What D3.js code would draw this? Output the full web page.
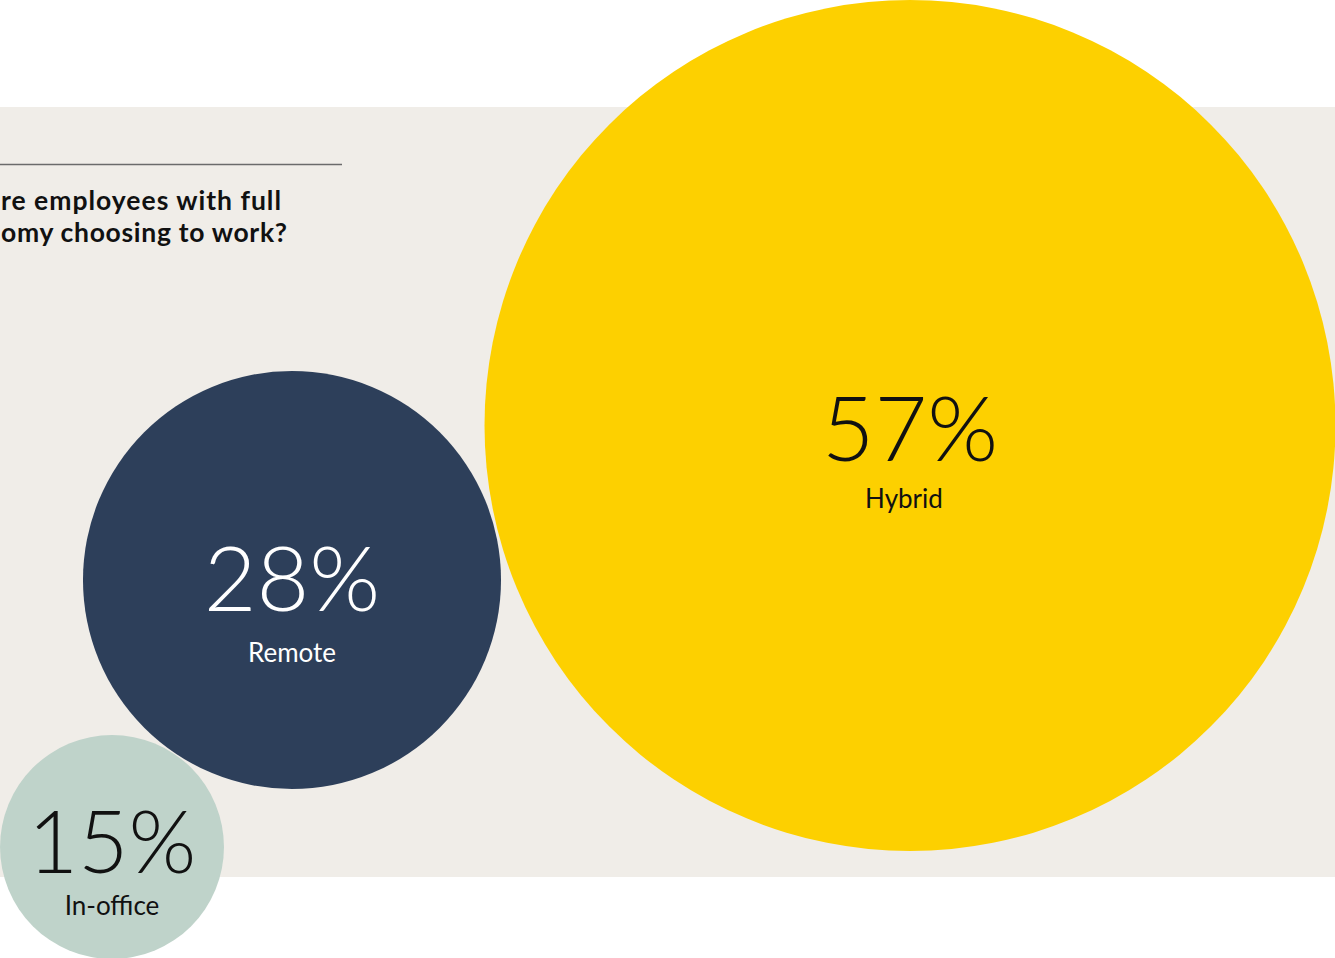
<!DOCTYPE html>
<html>
<head>
<meta charset="utf-8">
<script src="https://cdn.jsdelivr.net/npm/d3@7"></script>
<style>
  html, body { margin: 0; padding: 0; background: #fff; overflow: hidden; }
  svg { display: block; }
  .big { font-family: Lato, "Open Sans", sans-serif; font-weight: 300; }
  .lab { font-family: Lato, "Open Sans", sans-serif; font-weight: 400; }
  .title { font-family: Lato, "Open Sans", sans-serif; font-weight: 700; }
</style>
</head>
<body>
<div id="chart"></div>
<script>
var categories = ["Hybrid", "Remote", "In-office"];
var shares = [57, 28, 15];
var valueLabels = ["57%", "28%", "15%"];
// the question is cropped at the left edge in the original, only this part shows
var titleLines = ["re employees with full", "omy choosing to work?"];

var colors = ["#FDD000", "#2D3F5A", "#BFD3CA"];
var textColors = ["#111", "#fff", "#111"];

var W = 1335, H = 958;

// layout of the bubbles (centres), kept apart from the data
var centres = {
   "Hybrid": [910, 425.5],
   "Remote": [292, 580],
   "In-office": [112, 847]
};

var svg = d3.select("#chart").append("svg")
   .attr("width", W)
   .attr("height", H);

// beige panel
svg.append("rect")
   .attr("x", 0).attr("y", 107)
   .attr("width", W).attr("height", 770)
   .attr("fill", "#F0EDE8");

// rule above the question
svg.append("line")
   .attr("x1", 0).attr("x2", 342)
   .attr("y1", 164.5).attr("y2", 164.5)
   .attr("stroke", "#6b6b6b")
   .attr("stroke-width", 1.3);

svg.selectAll("text.title").data(titleLines)
   .enter().append("text")
   .attr("class", "title")
   .attr("x", 1)
   .attr("y", function(d, i) { return 210 + i * 32; })
   .attr("font-size", "26.5px")
   .attr("textLength", function(d, i) { return i == 0 ? 280 : 286; })
   .attr("lengthAdjust", "spacing")
   .attr("fill", "#111")
   .text(function(d) { return d; });

// radius is linear in the share
var r = d3.scaleLinear().domain([0, 57]).range([0, 425.5]);

var rows = categories.map(function(c, i) {
   return { cat: c, v: shares[i], label: valueLabels[i], color: colors[i], tc: textColors[i] };
});

var g = svg.selectAll("g.bubble").data(rows)
   .enter().append("g")
   .attr("class", "bubble")
   .attr("transform", function(d) { return "translate(" + centres[d.cat][0] + "," + centres[d.cat][1] + ")"; });

g.append("circle")
   .attr("r", function(d) { return r(d.v); })
   .attr("fill", function(d) { return d.color; });

g.append("text")
   .attr("class", "big")
   .attr("text-anchor", "middle")
   .attr("y", function(d) { return d.cat == "In-office" ? 26 : (d.cat == "Remote" ? 31 : 35); })
   .attr("font-size", function(d) { return d.cat == "In-office" ? "87px" : "91px"; })
   .attr("fill", function(d) { return d.tc; })
   .text(function(d) { return d.label; });

g.append("text")
   .attr("class", "lab")
   .attr("text-anchor", "middle")
   .attr("x", function(d) { return d.cat == "Hybrid" ? -6 : 0; })
   .attr("y", function(d) { return d.cat == "In-office" ? 68 : 82; })
   .attr("font-size", "26px")
   .attr("fill", function(d) { return d.tc; })
   .text(function(d) { return d.cat; });
</script>
</body>
</html>
